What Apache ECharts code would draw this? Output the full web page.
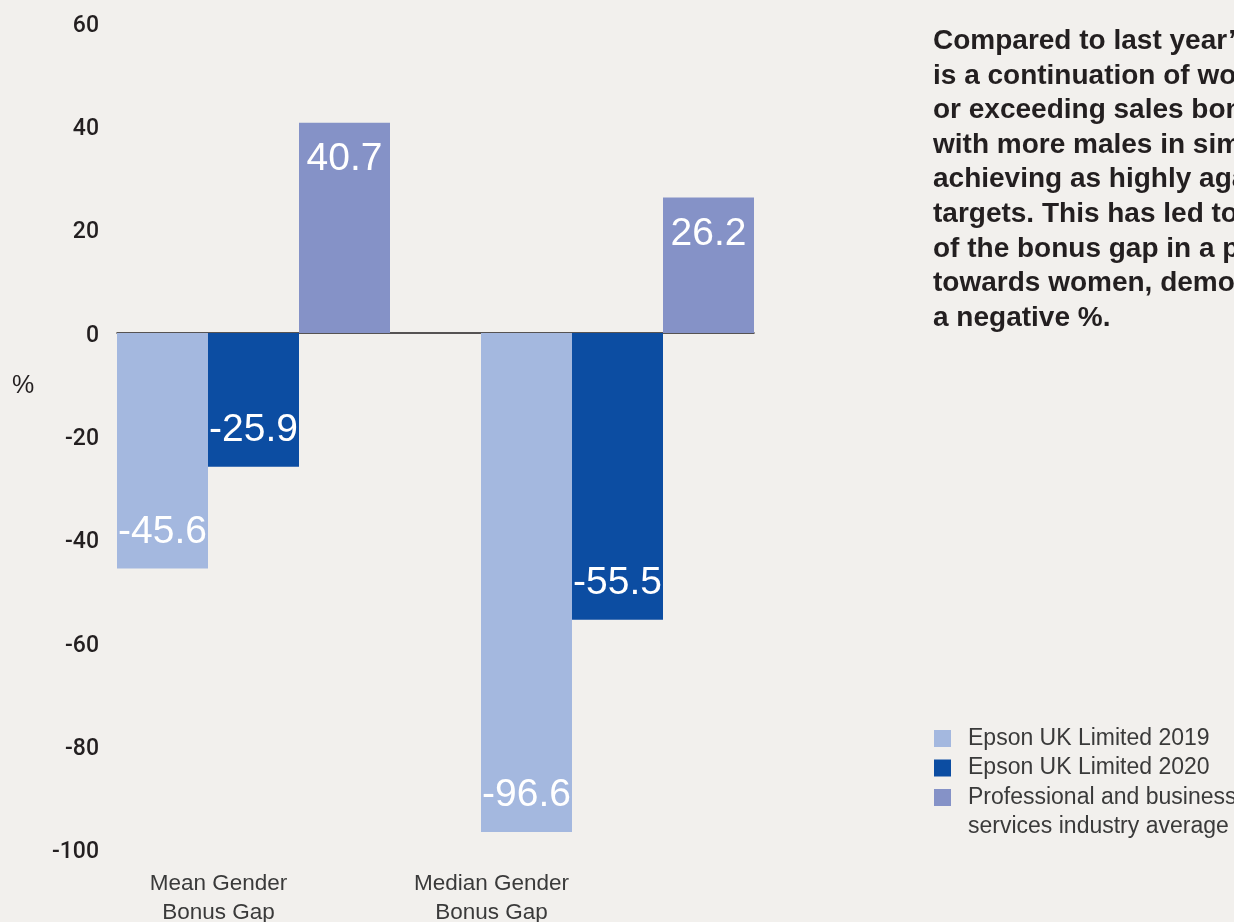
<!DOCTYPE html>
<html>
<head>
<meta charset="utf-8">
<script src="https://cdn.jsdelivr.net/npm/echarts@6/dist/echarts.min.js"></script>
<style>
  html, body { margin: 0; padding: 0; background: #f2f0ed; }
  #chart { width: 1234px; height: 922px; }
</style>
</head>
<body>
<div id="chart"></div>
<script>
// ---- data ----
const categories = ['Mean Gender\nBonus Gap', 'Median Gender\nBonus Gap'];
const seriesNames = ['Epson UK Limited 2019', 'Epson UK Limited 2020', 'Professional and business\nservices industry average'];
const epson2019 = [-45.6, -96.6];
const epson2020 = [-25.9, -55.5];
const industryAverage = [40.7, 26.2];
const yTicks = [-100, -80, -60, -40, -20, 0, 20, 40, 60];
const noteText = 'Compared to last year\u2019s figures, there\nis a continuation of women achieving\nor exceeding sales bonus targets,\nwith more males in similar roles not\nachieving as highly against their\ntargets. This has led to a reversal\nof the bonus gap in a positive direction\ntowards women, demonstrated by\na negative %.';

const seriesValues = [epson2019, epson2020, industryAverage];
const colors = ['#a4b8df', '#0c4da2', '#8592c7'];

// each category takes 3 bar slots, with one empty slot between categories
const slotCount = categories.length * 4 - 1;
const slots = [];
const slotLabels = [];
for (let i = 0; i < slotCount; i++) { slots.push('s' + i); slotLabels.push(''); }
// category captions sit (as in the source) left-shifted under the groups
categories.forEach((c, i) => { slotLabels[i * 3 + 1] = c; });

function slotData(values, sIdx) {
  const arr = new Array(slotCount).fill(null);
  values.forEach((v, i) => {
    arr[i * 4 + sIdx] = {
      value: v,
      label: { position: v < 0 ? 'insideBottom' : 'insideTop' }
    };
  });
  return arr;
}

const font = '"Liberation Sans", Arial, Helvetica, sans-serif';

const chart = echarts.init(document.getElementById('chart'), null, { renderer: 'canvas' });
chart.setOption({
  backgroundColor: '#f2f0ed',
  animation: false,
  textStyle: { fontFamily: font },
  grid: { left: 117, right: 480, top: 23, bottom: 72.5, containLabel: false, outerBoundsMode: 'none' },
  xAxis: [
    {
      type: 'category',
      data: slots,
      position: 'bottom',
      axisLine: { show: true, onZero: true, lineStyle: { color: '#231f20', width: 1.5 } },
      axisTick: { show: false },
      axisLabel: { show: false },
      splitLine: { show: false }
    },
    {
      type: 'category',
      data: slotLabels,
      position: 'bottom',
      axisLine: { show: false, onZero: false },
      axisTick: { show: false },
      splitLine: { show: false },
      axisLabel: {
        show: true,
        interval: function (idx, val) { return val !== ''; },
        margin: 20,
        fontSize: 22.5,
        lineHeight: 29,
        color: '#3a3a3a',
        fontFamily: font,
        padding: [0, 70, 0, 0]
      }
    }
  ],
  yAxis: {
    type: 'value',
    min: yTicks[0],
    max: yTicks[yTicks.length - 1],
    interval: yTicks[1] - yTicks[0],
    axisLine: { show: false },
    axisTick: { show: false },
    splitLine: { show: false },
    axisLabel: {
      margin: 18, fontSize: 23, fontWeight: 500, color: '#231f20',
      fontFamily: 'Roboto, ' + font, verticalAlign: 'top', lineHeight: 6
    }
  },
  legend: [
    {
      data: [seriesNames[0], seriesNames[1]],
      orient: 'vertical',
      left: 934,
      top: 723.75,
      padding: 0,
      itemGap: 0,
      itemWidth: 17,
      itemHeight: 17,
      icon: 'rect',
      selectedMode: false,
      textStyle: { fontSize: 23, lineHeight: 29.5, color: '#3a3a3a', fontFamily: font, padding: [0, 0, 0, 12] }
    },
    {
      data: [seriesNames[2]],
      orient: 'vertical',
      left: 934,
      top: 753.25,
      padding: 0,
      itemGap: 0,
      itemWidth: 17,
      itemHeight: 17,
      icon: 'rect',
      selectedMode: false,
      formatter: name => ' \n' + name,
      textStyle: { fontSize: 23, lineHeight: 29.5, color: '#3a3a3a', fontFamily: font, padding: [0, 0, 0, 12] }
    }
  ],
  series: seriesValues.map((vals, s) => ({
    name: seriesNames[s],
    type: 'bar',
    xAxisIndex: 0,
    barGap: '-100%',
    barCategoryGap: 0,
    itemStyle: { color: colors[s] },
    emphasis: { disabled: true },
    label: {
      show: true,
      color: '#ffffff',
      fontSize: 39,
      fontFamily: font,
      distance: 17,
      formatter: p => String(p.value)
    },
    data: slotData(vals, s)
  })),
  graphic: [
    {
      type: 'text',
      left: 12,
      top: 374,
      style: { text: '%', fontSize: 25, fill: '#231f20', fontFamily: font }
    },
    {
      type: 'text',
      left: 933,
      top: 24,
      style: { text: noteText, fontSize: 28, fontWeight: 'bold', lineHeight: 34.6, fill: '#231f20', fontFamily: font }
    }
  ]
});
</script>
</body>
</html>
